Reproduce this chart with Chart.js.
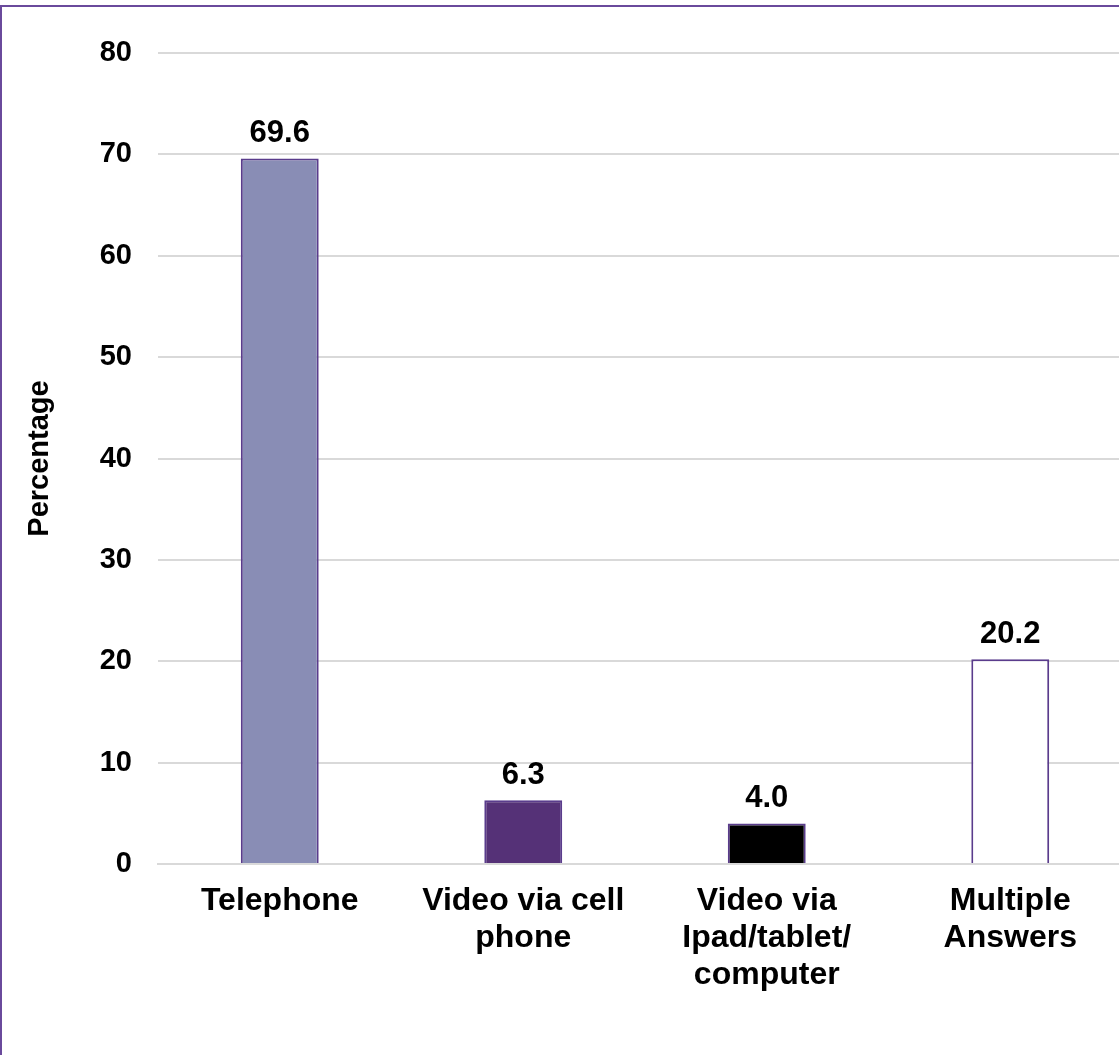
<!DOCTYPE html>
<html lang="en">
<head>
    <meta charset="UTF-8">
    <title>Percentage chart</title>
    <script src="https://cdn.jsdelivr.net/npm/chart.js"></script>
    <style>
        html, body {
        margin: 0;
        padding: 0;
        width: 1119px;
        height: 1055px;
        overflow: hidden;
        background: #fff;
        }
        .frame {
        position: absolute;
        left: 0;
        top: 5px;
        width: 1170px;
        height: 1110px;
        border-left: 2px solid #6a4a9c;
        border-top: 2px solid #6a4a9c;
        }
        .box {
        position: absolute;
        left: 0;
        top: 1px;
        width: 1160px;
        height: 1100px;
        }
    </style>
</head>
<body>
    <div class="frame">
        <div class="box"><canvas id="chart"></canvas></div>
    </div>
    <script>
        const categories = [
            ["Telephone"],
            ["Video via cell", "phone"],
            ["Video via", "Ipad/tablet/", "computer"],
            ["Multiple", "Answers"]
        ];
        const values = [69.6, 6.3, 4.0, 20.2];
        const barColors = ["#898db5", "#553177", "#000000", "#ffffff"];
        const yTicks = [0, 10, 20, 30, 40, 50, 60, 70, 80];

        const FONT = "'Liberation Sans', Arial, sans-serif";

        // draws the value above each bar
        const valueLabels = {
            id: "valueLabels",
            afterDatasetsDraw(chart) {
                const ctx = chart.ctx;
                const meta = chart.getDatasetMeta(0);
                ctx.save();
                ctx.font = "bold 31px " + FONT;
                ctx.fillStyle = "#000";
                ctx.textAlign = "center";
                ctx.textBaseline = "alphabetic";
                meta.data.forEach((bar, i) => {
                    ctx.fillText(values[i].toFixed(1), bar.x, bar.y - 16);
                });
                ctx.restore();
            }
        };

        new Chart(document.getElementById("chart"), {
            type: "bar",
            data: {
                labels: categories,
                datasets: [{
                    data: values,
                    backgroundColor: barColors,
                    borderColor: "#5a3c8c",
                    borderWidth: 2,
                    barPercentage: 1,
                    categoryPercentage: 0.32
                }]
            },
            options: {
                responsive: true,
                maintainAspectRatio: false,
                animation: false,
                layout: { padding: { top: 45, right: 30, bottom: 0, left: 0 } },
                plugins: {
                    legend: { display: false },
                    tooltip: { enabled: false }
                },
                scales: {
                    x: {
                        grid: { display: false, drawTicks: false },
                        border: { display: true, color: "#d9d9d9", width: 2 },
                        ticks: {
                            color: "#000",
                            padding: 19,
                            maxRotation: 0,
                            autoSkip: false,
                            font: { family: FONT, size: 32, weight: "bold", lineHeight: 1.15 }
                        },
                        afterFit(scale) { scale.height = 244; }
                    },
                    y: {
                        min: 0,
                        max: 80,
                        afterBuildTicks(scale) {
                            scale.ticks = yTicks.map(v => ({ value: v }));
                        },
                        grid: { color: "#d9d9d9", lineWidth: 2, drawTicks: false },
                        border: { display: false },
                        ticks: {
                            color: "#000",
                            padding: 26,
                            font: { family: FONT, size: 29, weight: "bold" }
                        },
                        title: {
                            display: true,
                            text: "Percentage",
                            color: "#000",
                            padding: { top: 21, bottom: 0 },
                            font: { family: FONT, size: 29, weight: "bold", lineHeight: 1.2 }
                        },
                        afterFit(scale) { scale.width = 156; }
                    }
                }
            },
            plugins: [valueLabels]
        });
    </script>
</body>
</html>
